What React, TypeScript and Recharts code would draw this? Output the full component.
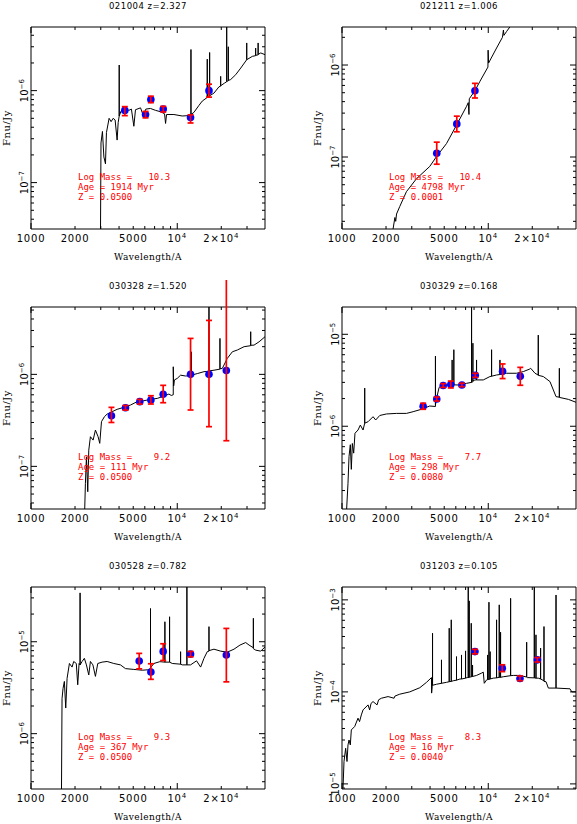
import React from 'react';
import { ComposedChart, Line, Scatter, XAxis, YAxis, ErrorBar, ReferenceArea } from 'recharts';

// wavelength axis (Angstrom), shared by all panels
const X_DOMAIN = [1000, 39810];
const X_TICKS = [1000, 2000, 3000, 4000, 5000, 6000, 7000, 8000, 9000, 10000, 20000, 30000];
const X_TICK_LABELS: [number, string, string][] = [
    [1000, '1000', ''],
    [2000, '2000', ''],
    [5000, '5000', ''],
    [10000, '10', '4'],
    [20000, '2×10', '4'],
];

// spectra: [wavelength, flux density in Jy]
const P1_SPEC = [
    [2985, 2.5e-8], [3010, 2.7e-7], [3080, 3.6e-7], [3150, 1.9e-7], [3230, 1.6e-7], [3280, 3.5e-7],
    [3420, 5.0e-7], [3530, 4.6e-7], [3645, 5.0e-7], [3760, 4.8e-7], [3880, 2.9e-7], [3945, 4.5e-7],
    [4010, 5.3e-7], [4010, 1.9e-6], [4010, 5.3e-7], [4130, 6.0e-7], [4355, 6.5e-7], [4670, 6.1e-7],
    [4860, 6.3e-7], [5050, 4.1e-7], [5180, 6.2e-7], [5610, 6.5e-7], [5850, 5.4e-7], [6100, 6.3e-7],
    [6560, 6.4e-7], [7110, 6.1e-7], [7690, 5.9e-7], [8190, 5.6e-7], [8320, 4.4e-7], [8450, 5.5e-7],
    [9490, 5.5e-7], [10800, 5.3e-7], [12000, 5.35e-7], [12410, 5.4e-7], [12410, 2.8e-6], [12410, 5.5e-7],
    [13000, 5.8e-7], [14060, 6.9e-7], [14830, 7.7e-7], [15810, 8.3e-7], [16040, 8.4e-7], [16040, 2.2e-6],
    [16040, 8.5e-7], [16650, 8.7e-7], [16650, 2.6e-6], [16650, 8.8e-7], [17820, 9.4e-7], [19280, 1.1e-6],
    [19810, 1.12e-6], [19810, 1.43e-6], [19810, 1.13e-6], [21080, 1.21e-6], [21780, 1.25e-6], [21780, 6e-6],
    [21780, 1.26e-6], [22340, 1.28e-6], [22340, 3.0e-6], [22340, 1.29e-6], [23180, 1.32e-6], [25100, 1.49e-6],
    [27170, 1.76e-6], [29860, 2.17e-6], [29860, 3.3e-6], [29860, 2.17e-6], [32650, 2.36e-6], [34360, 2.4e-6],
    [34360, 2.9e-6], [34360, 2.42e-6], [35730, 2.45e-6], [35730, 3.3e-6], [35730, 2.48e-6], [37240, 2.57e-6],
    [39810, 2.46e-6],
];
const P2_SPEC = [
    [2213, 1.5e-8], [2300, 2.2e-8], [2330, 2.0e-8], [2360, 2.4e-8], [2483, 2.9e-8], [2758, 4.2e-8],
    [3228, 5.8e-8], [3982, 7.9e-8], [4445, 1.02e-7], [5183, 1.4e-7], [6095, 2.25e-7], [7106, 3.56e-7],
    [7300, 3.9e-7], [7380, 2.9e-7], [7420, 4.3e-7], [8110, 5.26e-7], [8770, 6.64e-7], [9950, 9.5e-7],
    [9980, 1.45e-6], [10050, 1.05e-6], [11400, 1.53e-6], [12500, 2.0e-6], [12700, 2.4e-6], [12800, 2.1e-6],
    [13360, 2.32e-6], [14070, 2.6e-6], [16000, 3.5e-6],
];
const P3_SPEC = [
    [2317, 2.5e-8], [2355, 6.5e-8], [2394, 1.27e-7], [2444, 5.3e-8], [2483, 1.5e-7], [2548, 2.1e-7],
    [2659, 1.93e-7], [2758, 2.48e-7], [2876, 2.1e-7], [2952, 1.78e-7], [3033, 3.06e-7], [3178, 3.47e-7],
    [3315, 3.7e-7], [3588, 3.93e-7], [3882, 4.17e-7], [4312, 4.38e-7], [4789, 4.64e-7], [5320, 5.05e-7],
    [5912, 5.17e-7], [6568, 5.35e-7], [7297, 5.48e-7], [8107, 5.8e-7], [8770, 6.11e-7], [9100, 5.9e-7],
    [9390, 6.0e-7], [9390, 1.21e-6], [9450, 7.5e-7], [9563, 8.7e-7], [10000, 9.05e-7], [10540, 9.8e-7],
    [11400, 9.6e-7], [12480, 9.7e-7], [12480, 1.76e-6], [12480, 9.8e-7], [13710, 1.02e-6], [15230, 1.07e-6],
    [16480, 1.08e-6], [16480, 8e-6], [16480, 1.09e-6], [17830, 1.11e-6], [19590, 1.14e-6], [19590, 2.46e-6],
    [19590, 1.15e-6], [20320, 1.16e-6], [21980, 1.49e-6], [23810, 1.76e-6], [25760, 1.84e-6], [28640, 2.0e-6],
    [31780, 2.05e-6], [31780, 2.91e-6], [31780, 2.07e-6], [33500, 2.08e-6], [36260, 2.26e-6], [39850, 2.57e-6],
];
const P4_SPEC = [
    [1071, 1.1e-7], [1099, 2.4e-7], [1117, 4.7e-7], [1140, 6.3e-7], [1158, 3.4e-7], [1177, 6.5e-7],
    [1202, 5.1e-7], [1227, 8.4e-7], [1287, 9.1e-7], [1335, 1.03e-6], [1393, 9.1e-7], [1430, 1.08e-6],
    [1430, 2.6e-6], [1430, 1.08e-6], [1507, 1.12e-6], [1630, 1.27e-6], [1700, 1.17e-6], [1812, 1.31e-6],
    [2012, 1.36e-6], [2355, 1.38e-6], [2758, 1.38e-6], [3064, 1.44e-6], [3494, 1.53e-6], [3982, 1.66e-6],
    [4355, 1.64e-6], [4355, 5.8e-6], [4355, 1.7e-6], [4426, 2.0e-6], [4616, 2.65e-6], [4920, 2.81e-6],
    [5462, 2.81e-6], [5663, 2.82e-6], [5663, 5.26e-6], [5663, 2.82e-6], [5817, 2.82e-6], [5817, 6.8e-6],
    [5817, 2.82e-6], [6229, 2.81e-6], [7106, 2.93e-6], [7690, 3.0e-6], [7690, 3e-5], [7690, 3.0e-6],
    [7852, 3.05e-6], [7852, 8.0e-6], [7852, 3.1e-6], [8107, 3.19e-6], [8318, 3.19e-6], [8318, 5.26e-6],
    [8318, 3.19e-6], [9250, 3.19e-6], [10260, 3.47e-6], [10540, 3.5e-6], [10540, 6.8e-6], [10540, 3.5e-6],
    [11400, 3.61e-6], [12020, 3.65e-6], [12020, 5.26e-6], [12020, 3.66e-6], [13360, 3.77e-6], [15630, 3.77e-6],
    [17370, 3.93e-6], [19090, 4.17e-6], [19500, 4.27e-6], [20880, 3.77e-6], [21980, 3.6e-6], [21980, 9.8e-6],
    [21980, 3.58e-6], [23810, 3.47e-6], [26430, 3.06e-6], [29070, 2.1e-6], [30630, 2.07e-6], [30630, 4.27e-6],
    [30630, 2.06e-6], [35330, 1.96e-6], [40270, 1.81e-6],
];
const P5_SPEC = [
    [1615, 2e-7], [1630, 2.4e-6], [1656, 3.1e-6], [1691, 3.7e-6], [1728, 1.9e-6], [1765, 4.0e-6],
    [1831, 5.8e-6], [1909, 5.3e-6], [1959, 6.1e-6], [2040, 5.8e-6], [2087, 3.4e-6], [2132, 5.8e-6],
    [2166, 5.6e-6], [2166, 3.4e-5], [2166, 5.6e-6], [2235, 6.1e-6], [2317, 6.6e-6], [2393, 5.6e-6],
    [2483, 4.35e-6], [2548, 6.1e-6], [2650, 5.6e-6], [2758, 4.2e-6], [2861, 5.8e-6], [3063, 6.0e-6],
    [3315, 6.1e-6], [3681, 5.8e-6], [4090, 5.6e-6], [4426, 5.1e-6], [5047, 5.0e-6], [5760, 4.9e-6],
    [6300, 4.95e-6], [6563, 5.1e-6], [6563, 2.3e-5], [6563, 5.2e-6], [6919, 5.8e-6], [7603, 6.07e-6],
    [8232, 6.0e-6], [8232, 1.65e-5], [8232, 6.0e-6], [8860, 6.0e-6], [8860, 1.87e-5], [8860, 6.0e-6],
    [9246, 5.8e-6], [10540, 5.7e-6], [10540, 7.8e-6], [10540, 5.7e-6], [10820, 5.6e-6], [11640, 5.6e-6],
    [11640, 6e-5], [11640, 5.6e-6], [12330, 5.6e-6], [13550, 6.2e-6], [14450, 5.3e-6], [15230, 6.6e-6],
    [16040, 7.8e-6], [16480, 7.9e-6], [16480, 1.46e-5], [16480, 8.0e-6], [17830, 8.3e-6], [19820, 7.9e-6],
    [21980, 7.7e-6], [24430, 8.3e-6], [26850, 9.2e-6], [29360, 9.8e-6], [30970, 9.2e-6], [33150, 8.6e-6],
    [33150, 1.8e-5], [33150, 8.4e-6], [34400, 8.1e-6], [37240, 7.9e-6], [39850, 8.8e-6],
];
const P6_SPEC = [
    [1016, 9e-6], [1032, 1.75e-5], [1059, 2.44e-5], [1082, 1.75e-5], [1099, 2.65e-5], [1117, 3.0e-5],
    [1140, 2.65e-5], [1158, 3.86e-5], [1221, 4.2e-5], [1287, 5.18e-5], [1318, 4.75e-5], [1356, 5.62e-5],
    [1393, 6.37e-5], [1507, 7.22e-5], [1545, 6.37e-5], [1580, 7.5e-5], [1630, 7.85e-5], [1737, 7.22e-5],
    [1780, 8.2e-5], [1859, 8.53e-5], [2066, 8.89e-5], [2270, 8.53e-5], [2300, 9.0e-5], [2483, 9.44e-5],
    [2907, 1.0e-4], [3405, 1.11e-4], [3784, 1.27e-4], [4090, 1.43e-4], [4100, 9.7e-5], [4140, 1.15e-4],
    [4160, 1.18e-4], [4160, 4.34e-4], [4160, 1.18e-4], [4426, 1.21e-4], [4788, 1.24e-4], [4788, 2.23e-4],
    [4788, 1.24e-4], [5183, 1.27e-4], [5408, 1.29e-4], [5408, 4.92e-4], [5408, 1.29e-4], [5585, 1.3e-4],
    [5585, 6.07e-4], [5585, 1.3e-4], [5757, 1.32e-4], [6067, 1.34e-4], [6067, 2.42e-4], [6067, 1.34e-4],
    [6400, 1.38e-4], [6563, 1.38e-4], [6563, 2.52e-4], [6563, 1.38e-4], [6995, 1.41e-4], [6995, 2.79e-4],
    [6995, 1.41e-4], [7178, 1.43e-4], [7297, 1.43e-4], [7297, 1.5e-3], [7297, 1.43e-4], [7410, 1.44e-4],
    [7410, 9.75e-4], [7410, 1.44e-4], [7650, 1.46e-4], [7650, 5.57e-4], [7650, 1.46e-4], [7810, 1.47e-4],
    [7810, 1.96e-4], [7810, 1.47e-4], [8320, 1.51e-4], [9001, 1.6e-4], [9247, 1.64e-4], [9390, 1.24e-4],
    [9741, 1.35e-4], [9900, 1.36e-4], [9900, 2.52e-4], [9900, 1.36e-4], [10110, 1.37e-4], [10110, 9.44e-4],
    [10110, 1.37e-4], [10300, 1.38e-4], [10300, 2.74e-4], [10300, 1.38e-4], [10820, 1.41e-4], [11400, 1.42e-4],
    [11400, 6.07e-4], [11400, 1.42e-4], [11890, 1.44e-4], [11890, 8.83e-4], [11890, 1.44e-4], [12140, 1.44e-4],
    [12140, 4.45e-4], [12140, 1.44e-4], [12670, 1.46e-4], [14220, 1.5e-4], [14220, 1.04e-3], [14220, 1.5e-4],
    [14830, 1.51e-4], [16480, 1.51e-4], [18310, 1.45e-4], [18310, 3.47e-4], [18310, 1.45e-4], [18500, 1.43e-4],
    [20650, 1.42e-4], [20650, 1.5e-3], [20650, 1.42e-4], [21200, 1.41e-4], [21200, 4.17e-4], [21200, 1.41e-4],
    [21980, 1.41e-4], [22800, 1.38e-4], [22800, 2.99e-4], [22800, 1.38e-4], [24050, 1.32e-4], [24050, 5.13e-4],
    [24050, 1.3e-4], [24830, 1.29e-4], [25760, 1.1e-4], [29070, 1.1e-4], [29070, 1.13e-3], [29070, 1.1e-4],
    [36230, 1.08e-4], [37240, 1.0e-4], [40270, 1.0e-4],
];

// photometry: [wavelength, model flux, observed flux, error below, error above]
const P1_PHOT = [
    [4380, 6.1e-7, 6.0e-7, 6.5e-8, 7e-8],
    [6070, 5.5e-7, 5.5e-7, 4.4e-8, 4.4e-8],
    [6600, 8.0e-7, 8.0e-7, 6e-8, 7e-8],
    [8020, 6.3e-7, 6.3e-7, 4.5e-8, 4.5e-8],
    [12330, 5.1e-7, 4.95e-7, 5e-8, 5e-8],
    [16480, 1.0e-6, 1.0e-6, 1.5e-7, 1.75e-7],
];
const P2_PHOT = [
    [4445, 1.1e-7, 1.1e-7, 2.65e-8, 3.5e-8],
    [6095, 2.29e-7, 2.29e-7, 4.1e-8, 4.9e-8],
    [8110, 5.26e-7, 5.26e-7, 8.8e-8, 1.06e-7],
];
const P3_PHOT = [
    [3548, 3.55e-7, 3.7e-7, 7.0e-8, 6.8e-8],
    [4426, 4.34e-7, 4.34e-7, 2.5e-8, 2.5e-8],
    [5546, 5.05e-7, 5.05e-7, 3e-8, 3e-8],
    [6602, 5.26e-7, 5.26e-7, 5e-8, 6e-8],
    [8012, 6.07e-7, 6.07e-7, 1.15e-7, 1.53e-7],
    [12330, 1.0e-6, 1.0e-6, 5.9e-7, 1.46e-6],
    [16480, 1.0e-6, 1.0e-6, 7.3e-7, 2.86e-6],
    [21660, 1.1e-6, 1.1e-6, 9.1e-7, 1e-5],
];
const P4_PHOT = [
    [3588, 1.65e-6, 1.65e-6, 1.2e-7, 1.3e-7],
    [4445, 1.98e-6, 1.98e-6, 1e-7, 1e-7],
    [4920, 2.77e-6, 2.77e-6, 1.3e-7, 1.4e-7],
    [5546, 2.84e-6, 2.84e-6, 2.3e-7, 2.6e-7],
    [6602, 2.81e-6, 2.81e-6, 1.2e-7, 1.3e-7],
    [8150, 3.58e-6, 3.58e-6, 1.8e-7, 1.9e-7],
    [12530, 3.96e-6, 3.96e-6, 6.6e-7, 8.0e-7],
    [16560, 3.49e-6, 3.49e-6, 7.0e-7, 8.8e-7],
];
const P5_PHOT = [
    [5493, 6.17e-6, 6.17e-6, 1.1e-6, 1.3e-6],
    [6602, 4.68e-6, 4.68e-6, 0.78e-6, 1.08e-6],
    [8012, 7.85e-6, 7.85e-6, 1.6e-6, 1.66e-6],
    [12330, 7.34e-6, 7.34e-6, 5e-7, 5e-7],
    [21660, 7.16e-6, 7.16e-6, 3.5e-6, 6.8e-6],
];
const P6_PHOT = [
    [8110, 2.74e-4, 2.74e-4, 1.5e-5, 1.6e-5],
    [12470, 1.81e-4, 1.81e-4, 1.5e-5, 1.6e-5],
    [16480, 1.4e-4, 1.4e-4, 8e-6, 9e-6],
    [21680, 2.23e-4, 2.23e-4, 1.2e-5, 1.3e-5],
];

// flux axis ranges
const P1_Y = [3.13e-8, 4.92e-6];
const P2_Y = [1.65e-8, 2.59e-6];
const P3_Y = [3.44e-8, 5.4e-6];
const P4_Y = [1.26e-7, 1.98e-5];
const P5_Y = [2.5e-7, 3.94e-5];
const P6_Y = [8.8e-6, 1.38e-3];

const TITLES = ['021004 z=2.327', '021211 z=1.006', '030328 z=1.520', '030329 z=0.168', '030528 z=0.782', '031203 z=0.105'];
const MASSES = ['10.3', '10.4', '9.2', '7.7', '9.3', '8.3'];
const AGES = ['1914', '4798', '111', '298', '367', '16'];
const METALS = ['0.0500', '0.0001', '0.0500', '0.0080', '0.0500', '0.0040'];

const SPECS = [P1_SPEC, P2_SPEC, P3_SPEC, P4_SPEC, P5_SPEC, P6_SPEC];
const PHOTS = [P1_PHOT, P2_PHOT, P3_PHOT, P4_PHOT, P5_PHOT, P6_PHOT];
const YRANGES = [P1_Y, P2_Y, P3_Y, P4_Y, P5_Y, P6_Y];

const CHART_H = 264;
const PLOT_T = 27;
const PLOT_W = 234;
const PLOT_H = 202;
const Y_AXIS_W = 30;

const logTicks = (lo: number, hi: number) => {
    const out: number[] = [];
    for (let e = Math.floor(Math.log10(lo)); e <= Math.ceil(Math.log10(hi)); e++) {
        for (let m = 1; m <= 9; m++) {
            const v = m * Math.pow(10, e);
            if (v >= lo && v <= hi) out.push(v);
        }
    }
    return out;
};

const isDecade = (v: number) => Math.abs(Math.log10(v) - Math.round(Math.log10(v))) < 1e-6;

const tickFont = { fontFamily: 'DejaVu Sans', fontSize: 10, fill: '#000' };

// blue model photometry marker
const ModelDot = (p: any) => {
    if (p.cx == null || p.cy == null) return <g key={p.key} />;
    return <circle key={p.key} cx={p.cx} cy={p.cy} r={3.8} fill="#0000ff" />;
};

interface PanelProps {
    idx: number;
}

const Panel: React.FC<PanelProps> = ({ idx }) => {
    const col = idx % 2;
    const row = Math.floor(idx / 2);
    const chartW = col === 0 ? 290 : 287;
    const marginLeft = col === 0 ? 1 : 22;
    const plotL = marginLeft + Y_AXIS_W;
    const plotR = plotL + PLOT_W;
    const plotB = PLOT_T + PLOT_H;
    const [yLo, yHi] = YRANGES[idx];

    const spec = SPECS[idx].map(([x, y]) => ({ x, y }));
    const phot = PHOTS[idx].map(([x, m, o, lo, hi]) => ({ x, m, o, err: [lo, hi] }));
    const yTicks = logTicks(yLo, yHi);

    const renderXTick = (props: any) => {
        const { x, y, payload } = props;
        const v = payload.value;
        const len = isDecade(v) ? 6 : 3;
        const lab = X_TICK_LABELS.find((l) => l[0] === v);
        return (
            <g>
                <line x1={x} x2={x} y1={y} y2={y - len} stroke="#000" />
                <line x1={x} x2={x} y1={PLOT_T} y2={PLOT_T + len} stroke="#000" />
                {lab && (
                    <text x={x} y={y + 13} textAnchor="middle" letterSpacing={0.8} {...tickFont}>
                        {lab[1]}
                        {lab[2] && <tspan dy={-4} fontSize={7}>{lab[2]}</tspan>}
                    </text>
                )}
            </g>
        );
    };

    const renderYTick = (props: any) => {
        const { x, y, payload } = props;
        const v = payload.value;
        const major = isDecade(v);
        const len = major ? 6 : 3;
        return (
            <g>
                <line x1={x} x2={x + len} y1={y} y2={y} stroke="#000" />
                <line x1={plotR} x2={plotR - len} y1={y} y2={y} stroke="#000" />
                {major && (
                    <text transform={`translate(${x - 3},${y}) rotate(-90)`} textAnchor="middle" {...tickFont}>
                        10
                        <tspan dy={-4} fontSize={7}>{'\u2212' + Math.abs(Math.round(Math.log10(v)))}</tspan>
                    </text>
                )}
            </g>
        );
    };

    return (
        <div style={{ position: 'absolute', left: col === 0 ? 0 : 290, top: row * 280, width: chartW, height: CHART_H }}>
            <ComposedChart
                width={chartW}
                height={CHART_H}
                margin={{ top: PLOT_T, right: chartW - plotR, bottom: 0, left: marginLeft }}
            >
                <XAxis
                    xAxisId="w"
                    type="number"
                    dataKey="x"
                    scale="log"
                    domain={X_DOMAIN}
                    allowDataOverflow
                    ticks={X_TICKS}
                    interval={0}
                    tick={renderXTick}
                    tickLine={false}
                    axisLine={false}
                    tickSize={0}
                    tickMargin={0}
                    height={CHART_H - plotB}
                />
                <YAxis
                    yAxisId="f"
                    type="number"
                    scale="log"
                    domain={[yLo, yHi]}
                    allowDataOverflow
                    ticks={yTicks}
                    interval={0}
                    tick={renderYTick}
                    tickLine={false}
                    axisLine={false}
                    tickSize={0}
                    tickMargin={0}
                    width={Y_AXIS_W}
                />
                <Line
                    xAxisId="w"
                    yAxisId="f"
                    data={spec}
                    dataKey="y"
                    type="linear"
                    dot={false}
                    activeDot={false}
                    stroke="#000"
                    strokeWidth={1}
                    isAnimationActive={false}
                    zIndex={400}
                />
                <Line
                    xAxisId="w"
                    yAxisId="f"
                    data={phot}
                    dataKey="m"
                    type="linear"
                    stroke="none"
                    dot={ModelDot}
                    activeDot={false}
                    isAnimationActive={false}
                    zIndex={450}
                />
                <Scatter
                    xAxisId="w"
                    yAxisId="f"
                    data={phot}
                    dataKey="o"
                    shape={() => <g />}
                    isAnimationActive={false}
                    zIndex={1500}
                >
                    <ErrorBar
                        dataKey="err"
                        direction="y"
                        width={3}
                        stroke="#ff0000"
                        strokeWidth={1.7}
                        isAnimationActive={false}
                        zIndex={1600}
                    />
                </Scatter>
                <ReferenceArea
                    xAxisId="w"
                    yAxisId="f"
                    x1={X_DOMAIN[0]}
                    x2={X_DOMAIN[1]}
                    y1={yLo}
                    y2={yHi}
                    fill="none"
                    stroke="#000"
                    strokeWidth={1}
                    ifOverflow="visible"
                />
            </ComposedChart>
            <div
                style={{
                    position: 'absolute', left: plotL, top: 1, width: PLOT_W, lineHeight: '10px',
                    textAlign: 'center', fontFamily: 'DejaVu Sans', fontSize: 8.5, letterSpacing: 0.5,
                }}
            >
                {TITLES[idx]}
            </div>
            <div
                style={{
                    position: 'absolute', left: plotL, top: plotB + 22, width: PLOT_W, lineHeight: '12px',
                    textAlign: 'center', fontFamily: 'DejaVu Serif', fontSize: 9, letterSpacing: 0.4,
                }}
            >
                Wavelength/A
            </div>
            <div
                style={{
                    position: 'absolute', left: plotL - 24 - 30, top: PLOT_T + 101 - 6, width: 60, lineHeight: '12px',
                    textAlign: 'center', fontFamily: 'DejaVu Serif', fontSize: 10, letterSpacing: 0.5,
                    transform: 'rotate(-90deg)',
                }}
            >
                Fnu/Jy
            </div>
            <div
                style={{
                    position: 'absolute', left: plotL + 47, top: PLOT_T + 145, lineHeight: '10px',
                    color: '#ff0000', fontFamily: 'DejaVu Sans Mono', fontSize: 9, whiteSpace: 'pre',
                }}
            >
                {`Log Mass = ${MASSES[idx].padStart(6, ' ')}`}
                <br />
                {`Age = ${AGES[idx]} Myr`}
                <br />
                {`Z = ${METALS[idx]}`}
            </div>
        </div>
    );
};

export default function App() {
    return (
        <div style={{ position: 'absolute', left: 0, top: 0, width: 577, height: 824, background: '#fff', overflow: 'hidden' }}>
            {TITLES.map((_, i) => (
                <Panel key={i} idx={i} />
            ))}
        </div>
    );
}
